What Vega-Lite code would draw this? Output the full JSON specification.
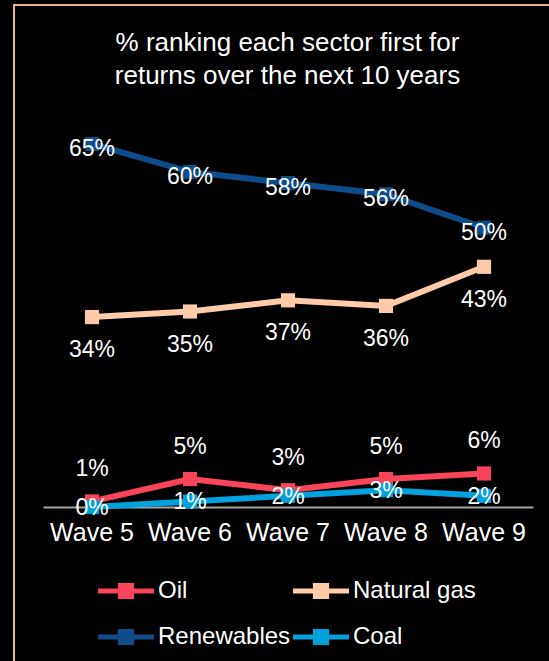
{
  "$schema": "https://vega.github.io/schema/vega-lite/v6.json",
  "width": 545,
  "height": 666,
  "autosize": {"type": "none"},
  "padding": {"left": 14, "top": 5, "right": -10, "bottom": -10},
  "background": "black",
  "config": {
    "font": "Liberation Sans",
    "view": {"stroke": "#E8B38A", "strokeWidth": 2, "fill": null}
  },
  "title": {
    "text": ["% ranking each sector first for", "returns over the next 10 years"],
    "fontSize": 26,
    "fontWeight": "normal",
    "color": "white",
    "font": "Liberation Sans",
    "anchor": "middle",
    "frame": "group",
    "dx": 1,
    "offset": -105,
    "baseline": "alphabetic",
    "lineHeight": 33
  },
  "data": {
    "values": [
      {"wave": "Wave 5", "sector": "Oil", "value": 0.01},
      {"wave": "Wave 6", "sector": "Oil", "value": 0.05},
      {"wave": "Wave 7", "sector": "Oil", "value": 0.03},
      {"wave": "Wave 8", "sector": "Oil", "value": 0.05},
      {"wave": "Wave 9", "sector": "Oil", "value": 0.06},
      {"wave": "Wave 5", "sector": "Natural gas", "value": 0.34},
      {"wave": "Wave 6", "sector": "Natural gas", "value": 0.35},
      {"wave": "Wave 7", "sector": "Natural gas", "value": 0.37},
      {"wave": "Wave 8", "sector": "Natural gas", "value": 0.36},
      {"wave": "Wave 9", "sector": "Natural gas", "value": 0.43},
      {"wave": "Wave 5", "sector": "Renewables", "value": 0.65},
      {"wave": "Wave 6", "sector": "Renewables", "value": 0.60},
      {"wave": "Wave 7", "sector": "Renewables", "value": 0.58},
      {"wave": "Wave 8", "sector": "Renewables", "value": 0.56},
      {"wave": "Wave 9", "sector": "Renewables", "value": 0.50},
      {"wave": "Wave 5", "sector": "Coal", "value": 0.00},
      {"wave": "Wave 6", "sector": "Coal", "value": 0.01},
      {"wave": "Wave 7", "sector": "Coal", "value": 0.02},
      {"wave": "Wave 8", "sector": "Coal", "value": 0.03},
      {"wave": "Wave 9", "sector": "Coal", "value": 0.02}
    ]
  },
  "encoding": {
    "x": {
      "field": "wave",
      "type": "ordinal",
      "bandPosition": 0.5,
      "scale": {"type": "band", "range": [29, 519], "paddingInner": 0, "paddingOuter": 0},
      "axis": {
        "orient": "bottom",
        "offset": -164,
        "title": null,
        "ticks": false,
        "tickSize": 0,
        "grid": false,
        "labelAngle": 0,
        "labelPadding": 13,
        "labelFontSize": 25,
        "labelColor": "white",
        "labelFont": "Liberation Sans",
        "domainColor": "#A6A6A6",
        "domainWidth": 2
      }
    },
    "y": {
      "field": "value",
      "type": "quantitative",
      "scale": {"domain": [0, 0.7], "range": [502, 111], "nice": false, "zero": true},
      "axis": null
    },
    "color": {
      "field": "sector",
      "type": "nominal",
      "scale": {"domain": ["Oil", "Natural gas", "Renewables", "Coal"], "range": ["#F9445A", "#FFCBA8", "#0F4C8C", "#00A1DC"]},
      "legend": {
        "orient": "none",
        "direction": "horizontal",
        "legendX": 84,
        "legendY": 558,
        "title": null,
        "columns": 2,
        "columnPadding": 2,
        "rowPadding": 6,
        "padding": 0,
        "symbolType": "M-1,-0.09L1,-0.09L1,0.09L-1,0.09ZM-0.29,-0.29L0.29,-0.29L0.29,0.29L-0.29,0.29Z",
        "symbolSize": 3136,
        "symbolStrokeWidth": 0,
        "labelFontSize": 24,
        "labelColor": "white",
        "labelFont": "Liberation Sans",
        "labelOffset": 4,
        "encode": {
          "symbols": {"update": {"fill": {"scale": "color", "field": "value"}, "opacity": {"value": 1}}}
        }
      }
    }
  },
  "layer": [
    {
      "mark": {"type": "line", "strokeWidth": 6},
      "encoding": {"detail": {"field": "sector"}}
    },
    {
      "mark": {"type": "point", "shape": "square", "filled": true, "size": 200, "opacity": 1}
    },
    {
      "transform": [{"filter": "datum.sector === 'Renewables'"}],
      "mark": {"type": "text", "fontSize": 23, "baseline": "middle", "dy": 5, "font": "Liberation Sans"},
      "encoding": {"text": {"field": "value", "type": "quantitative", "format": ".0%"}, "color": {"value": "white"}}
    },
    {
      "transform": [{"filter": "datum.sector === 'Natural gas'"}],
      "mark": {"type": "text", "fontSize": 23, "baseline": "middle", "dy": 33, "font": "Liberation Sans"},
      "encoding": {"text": {"field": "value", "type": "quantitative", "format": ".0%"}, "color": {"value": "white"}}
    },
    {
      "transform": [{"filter": "datum.sector === 'Oil'"}],
      "mark": {"type": "text", "fontSize": 23, "baseline": "middle", "dy": -32, "font": "Liberation Sans"},
      "encoding": {"text": {"field": "value", "type": "quantitative", "format": ".0%"}, "color": {"value": "white"}}
    },
    {
      "transform": [{"filter": "datum.sector === 'Coal'"}],
      "mark": {"type": "text", "fontSize": 23, "baseline": "middle", "dy": 1, "font": "Liberation Sans"},
      "encoding": {"text": {"field": "value", "type": "quantitative", "format": ".0%"}, "color": {"value": "white"}}
    }
  ]
}
